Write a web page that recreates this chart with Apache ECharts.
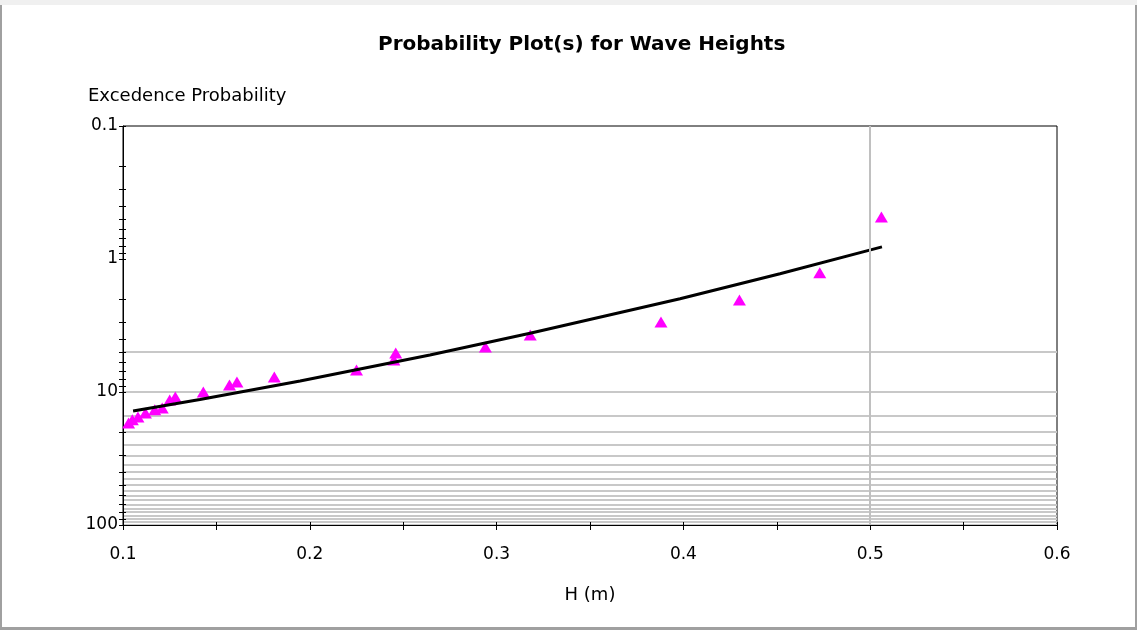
<!DOCTYPE html>
<html>
<head>
<meta charset="utf-8">
<title>Probability Plot(s) for Wave Heights</title>
<script src="https://cdn.jsdelivr.net/npm/echarts@6/dist/echarts.min.js"></script>
<style>
    html, body { margin: 0; padding: 0; background: #fff; }
    .chart {
        width: 1137px;
        height: 630px;
        box-shadow: inset 0 5px 0 #f0f0f0, inset 2px 0 0 #a0a0a0, inset -2px 0 0 #a0a0a0, inset 0 -3px 0 #a0a0a0;
    }
</style>
</head>
<body>
<div class="chart"></div>
<script>
// 数据: 波高 H (m) 与超越概率 (%)
var waveH = [0.506, 0.473, 0.430, 0.388, 0.318, 0.294, 0.246, 0.245, 0.225, 0.181,
             0.161, 0.157, 0.143, 0.128, 0.125, 0.121, 0.117, 0.112, 0.108, 0.105, 0.103];
var exceedP = [0.483, 1.27, 2.03, 2.98, 3.73, 4.59, 5.09, 5.74, 6.83, 7.71,
               8.42, 8.86, 10.0, 10.9, 11.5, 13.2, 13.6, 14.4, 15.4, 16.2, 17.1];

// 拟合曲线
var fitH = [0.1054, 0.1412, 0.1948, 0.2643, 0.3179, 0.3982, 0.4517, 0.5063];
var fitP = [13.9, 11.4, 8.27, 5.27, 3.62, 1.99, 1.29, 0.81];

// 坐标轴刻度
var yTickValues = [0.1, 0.2, 0.3, 0.4, 0.5, 0.6, 0.7, 0.8, 0.9,
                   1, 2, 3, 4, 5, 6, 7, 8, 9,
                   10, 20, 30, 40, 50, 60, 70, 80, 90, 100];
var yGridValues = [5, 10, 15, 20, 25, 30, 35, 40, 45, 50, 55, 60, 65, 70, 75, 80, 85, 90, 95, 100];
var refLineH = 0.5;

(function() {
    var myChart = echarts.init(document.querySelector('.chart'));
    var font = 'DejaVu Sans';
    var black = '#000';

    function pairs(xs, ys) {
        return xs.map(function(x, i) { return [x, ys[i]]; });
    }

    function yAxisBase(extra) {
        var base = {
            type: 'log',
            logBase: 10,
            min: 0.1,
            max: 100,
            inverse: true,
            position: 'left',
            offset: 0,
            axisLine: { show: false },
            axisLabel: { show: false },
            axisTick: { show: false },
            splitLine: { show: false }
        };
        return Object.assign(base, extra);
    }

    var xAxisBase = {
        type: 'value',
        min: 0.1,
        max: 0.6,
        interval: 0.1,
        position: 'bottom',
        axisLine: { onZero: false, lineStyle: { color: black, width: 1 } },
        splitLine: { show: false }
    };

    var option = {
        animation: false,
        title: [{
            text: 'Probability Plot(s) for Wave Heights',
            left: 373,
            top: 30,
            textStyle: { fontFamily: font, fontSize: 20, fontWeight: 'bold', color: black }
        }, {
            text: 'Excedence Probability',
            left: 83,
            top: 82,
            textStyle: { fontFamily: font, fontSize: 18, fontWeight: 'normal', color: black }
        }],
        grid: {
            left: 123,
            right: 80,
            top: 126,
            bottom: 105,
            show: true,
            borderColor: black,
            borderWidth: 1,
            backgroundColor: 'transparent'
        },
        xAxis: [
            Object.assign({}, xAxisBase, {
                name: 'H (m)',
                nameLocation: 'middle',
                nameGap: 61,
                nameTextStyle: { fontFamily: font, fontSize: 18, color: black },
                axisLabel: {
                    fontFamily: font, fontSize: 17, color: black, margin: 21,
                    formatter: function(v) { return v.toFixed(1); }
                },
                axisTick: { show: true, length: 5, lineStyle: { color: black } },
                minorTick: { show: true, splitNumber: 2, length: 5, lineStyle: { color: black } }
            }),
            Object.assign({}, xAxisBase, {
                axisLine: { show: false, onZero: false },
                axisLabel: { show: false },
                axisTick: { show: true, inside: true, length: 3, lineStyle: { color: black } },
                minorTick: { show: true, splitNumber: 2, length: 3, lineStyle: { color: black } }
            })
        ],
        yAxis: [
            // 网格线
            yAxisBase({
                axisTick: { show: false, customValues: yGridValues },
                splitLine: { show: true, lineStyle: { color: '#c8c8c8', width: 2 } }
            }),
            // 外侧刻度和标签
            yAxisBase({
                axisLine: { show: true, lineStyle: { color: black, width: 1 } },
                axisLabel: {
                    show: true, fontFamily: font, fontSize: 17, color: black, margin: 5,
                    formatter: function(v) { return String(v); }
                },
                axisTick: { show: true, customValues: yTickValues, length: 4, lineStyle: { color: black } }
            }),
            // 内侧刻度
            yAxisBase({
                axisTick: { show: true, inside: true, customValues: yTickValues, length: 3, lineStyle: { color: black } }
            })
        ],
        series: [{
            name: 'Observed',
            type: 'scatter',
            xAxisIndex: 0,
            yAxisIndex: 0,
            symbol: 'triangle',
            symbolSize: [13, 11],
            itemStyle: { color: '#ff00ff', opacity: 1 },
            data: pairs(waveH, exceedP),
            markLine: {
                silent: true,
                symbol: 'none',
                label: { show: false },
                lineStyle: { color: '#c0c0c0', width: 2, type: 'solid' },
                data: [{ xAxis: refLineH }]
            },
            z: 2
        }, {
            name: 'Fit',
            type: 'line',
            xAxisIndex: 0,
            yAxisIndex: 0,
            symbol: 'none',
            smooth: false,
            lineStyle: { color: black, width: 3 },
            data: pairs(fitH, fitP),
            z: 3
        }]
    };

    myChart.setOption(option);
    window.addEventListener('resize', function() {
        myChart.resize();
    });
})();
</script>
</body>
</html>
